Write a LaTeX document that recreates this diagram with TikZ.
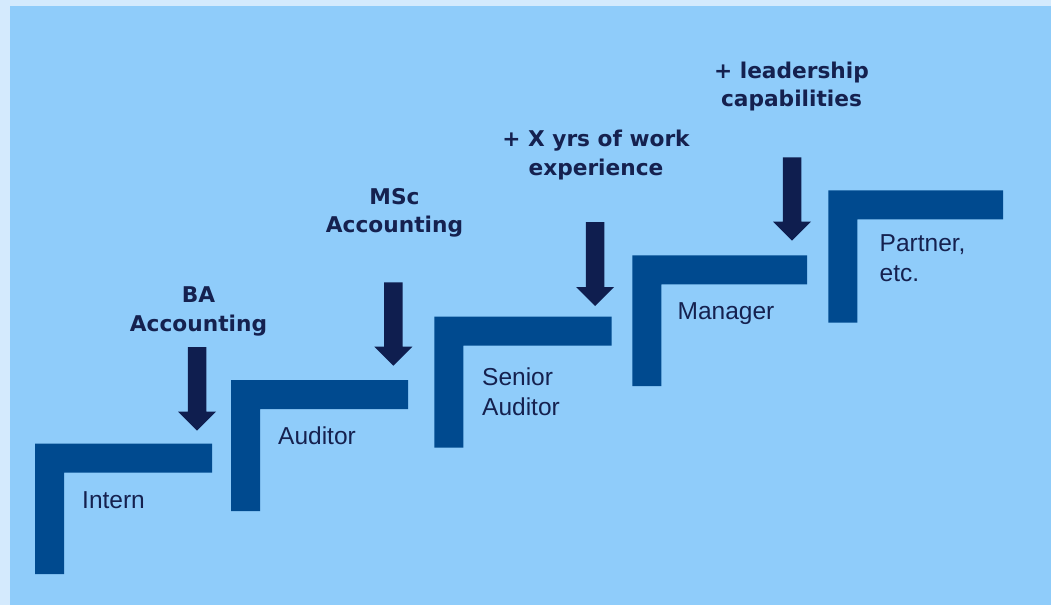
\documentclass[tikz,border=0pt]{standalone}
\usepackage{fontspec}
\setmainfont{Liberation Sans}
\newfontfamily\boldlabfont{DejaVu Sans}
\definecolor{outerbg}{HTML}{D4EAFD}
\definecolor{mainbg}{HTML}{8FCCFA}
\definecolor{stepblue}{HTML}{004A8F}
\definecolor{arrownavy}{HTML}{0F1E4F}
\definecolor{textnavy}{HTML}{15214F}
\tikzset{
  rolelabel/.style={anchor=base west, inner sep=0pt, text=textnavy, font=\fontsize{24.5}{30}\selectfont},
  reqlabel/.style={anchor=base, inner sep=0pt, text=textnavy, font=\boldlabfont\bfseries\fontsize{21.7}{28}\selectfont},
  stepshape/.style={fill=stepblue},
  arrowshape/.style={fill=arrownavy}
}
\newcommand{\careerstep}[4]{% left, top, right, bottom
  \fill[stepshape] (#1,#2) -- (#3,#2) -- (#3,{#2+29}) -- ({#1+29},{#2+29}) -- ({#1+29},#4) -- (#1,#4) -- cycle;}
\newcommand{\reqarrow}[3]{% centre x, top y, tip y
  \fill[arrowshape] ({#1-9.25},#2) -- ({#1+9.25},#2) -- ({#1+9.25},{#3-19}) -- ({#1+19},{#3-19}) -- (#1,#3) -- ({#1-19},{#3-19}) -- ({#1-9.25},{#3-19}) -- cycle;}
\begin{document}
\begin{tikzpicture}[x=1pt,y=-1pt]
\useasboundingbox (0,0) rectangle (1051,605);
\fill[outerbg] (0,0) rectangle (1051,605);
\fill[mainbg] (10,6) rectangle (1051,605);
% steps
\careerstep{35}{443.7}{212}{574}
\careerstep{231}{380}{408}{511}
\careerstep{434.3}{316.7}{611.7}{447.7}
\careerstep{632.3}{255.3}{807}{386}
\careerstep{828.3}{190.3}{1003}{322.7}
% arrows
\reqarrow{197}{347}{430.7}
\reqarrow{393.3}{282.3}{365.7}
\reqarrow{595}{222}{306}
\reqarrow{792}{157.3}{240.7}
% role labels
\node[rolelabel] (intern) at (82,508.3) {Intern};
\node[rolelabel] (auditor) at (278,444.5) {Auditor};
\node[rolelabel] (senior1) at (482,385) {Senior};
\node[rolelabel] (senior2) at (482,415) {Auditor};
\node[rolelabel] (manager) at (677.5,319.3) {Manager};
\node[rolelabel] (partner1) at (879.5,251) {Partner,};
\node[rolelabel] (partner2) at (879.5,281.7) {etc.};
% requirement labels
\node[reqlabel] (ba1) at (198.5,302.7) {BA};
\node[reqlabel] (ba2) at (198.5,331.2) {Accounting};
\node[reqlabel] (msc1) at (394.5,204) {MSc};
\node[reqlabel] (msc2) at (394.5,232.5) {Accounting};
\node[reqlabel] (exp1) at (596,146) {+ X yrs of work};
\node[reqlabel] (exp2) at (596,175) {experience};
\node[reqlabel] (lead1) at (791.5,78.3) {+ leadership};
\node[reqlabel] (lead2) at (791.5,106.3) {capabilities};
\end{tikzpicture}
\end{document}
